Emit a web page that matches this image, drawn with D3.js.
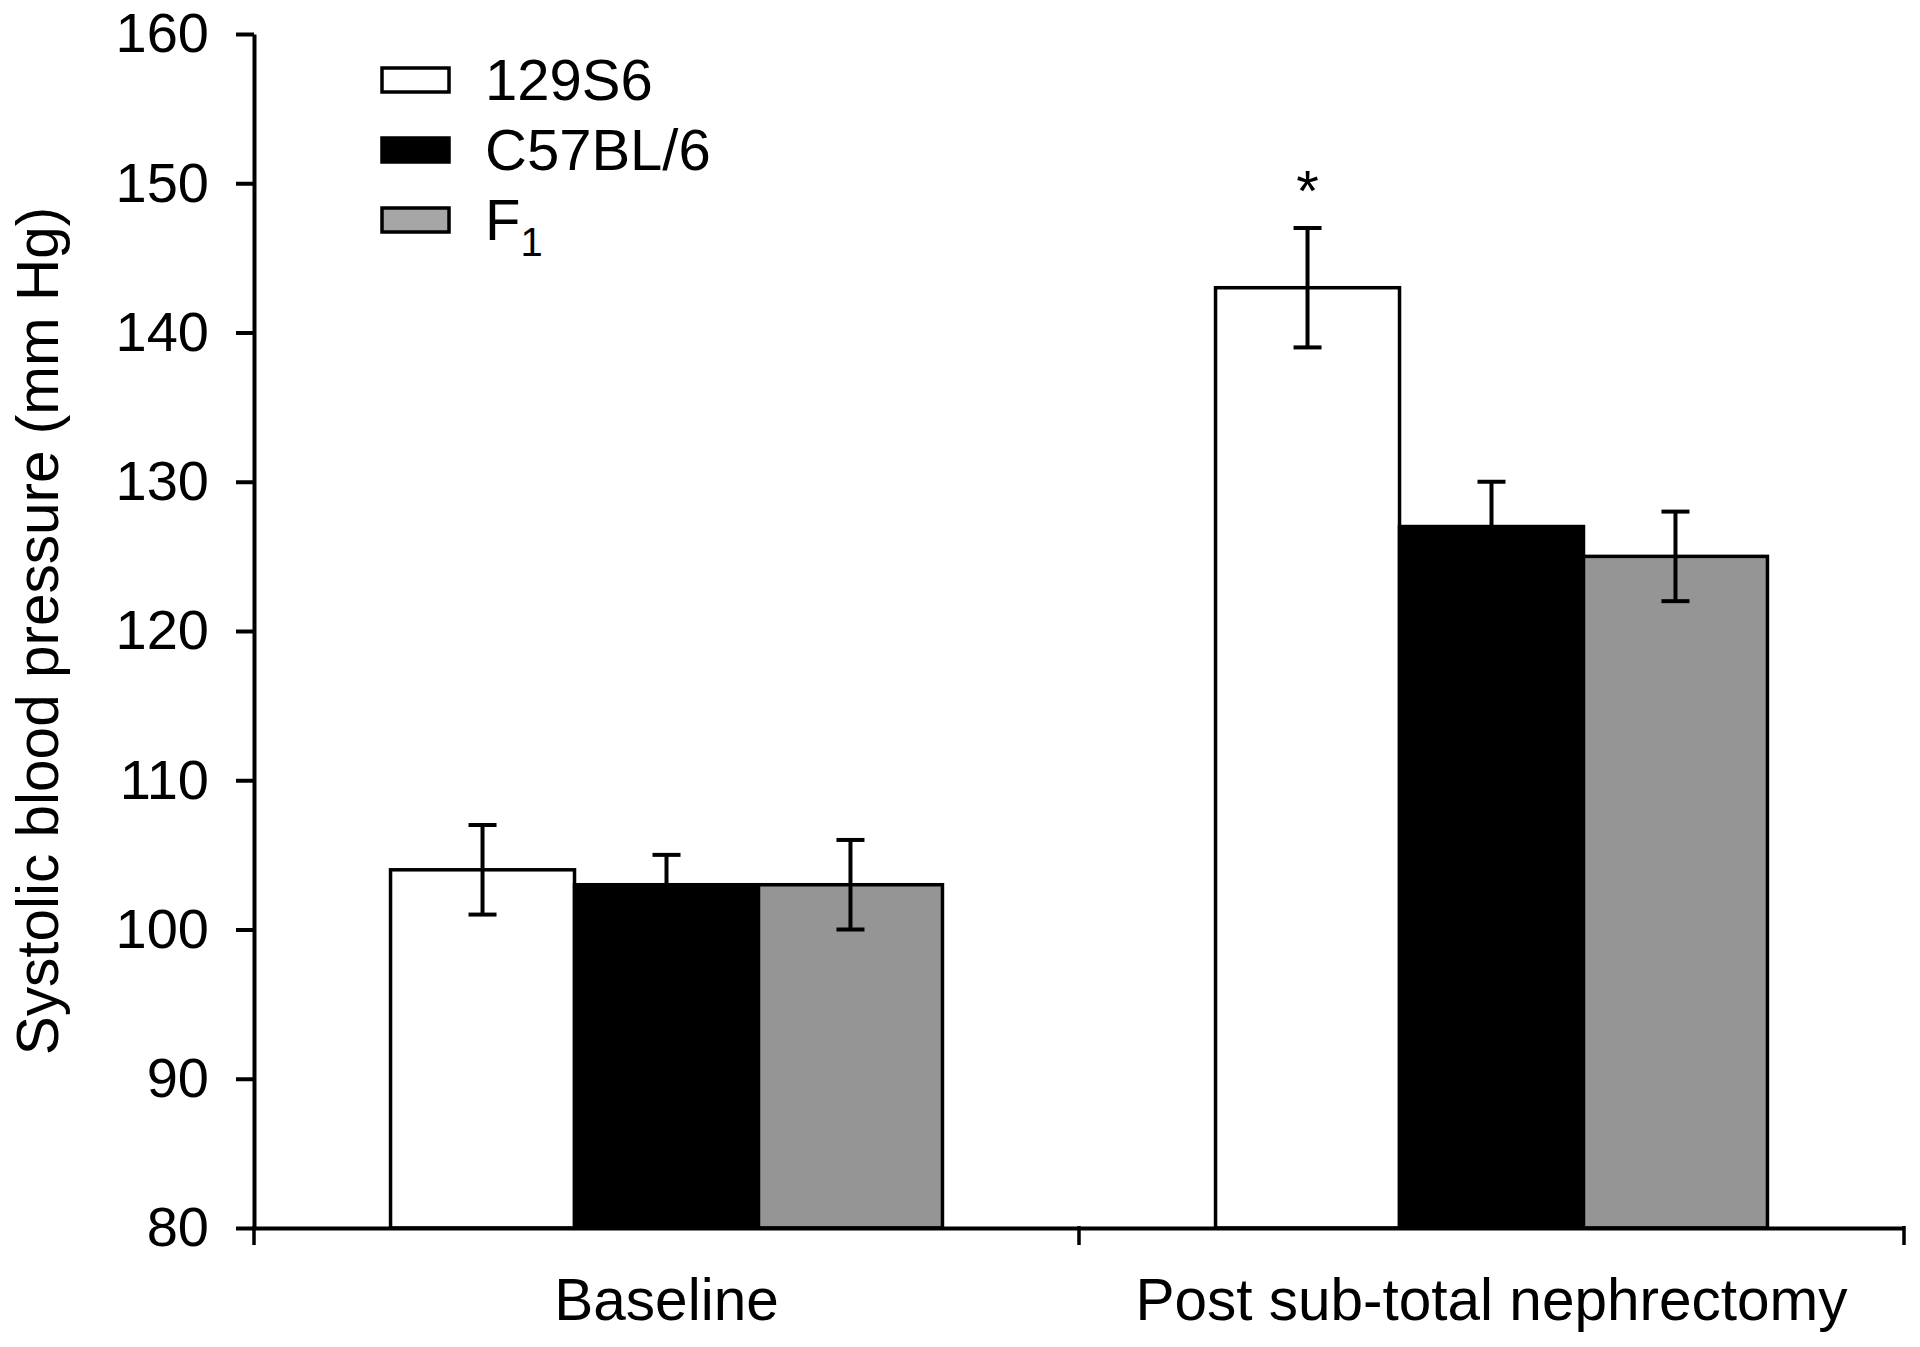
<!DOCTYPE html>
<html>
<head>
<meta charset="utf-8">
<script src="https://cdn.jsdelivr.net/npm/d3@7"></script>
<style>
  html, body { margin: 0; padding: 0; background: #fff; }
  svg { display: block; font-family: "Liberation Sans", Arial, Helvetica, sans-serif; }
</style>
</head>
<body>
<svg id="chart" width="1920" height="1347"></svg>
<script>
// ---- data ----
const categories = ["Baseline", "Post sub-total nephrectomy"];
const seriesNames = ["129S6", "C57BL/6", "F1"];
const seriesColors = ["#ffffff", "#000000", "#959595"];
const values129S6 = [104, 143];
const valuesC57 = [103, 127];
const valuesF1 = [103, 125];
const err129S6 = [3, 4];
const errC57 = [2, 3];
const errF1 = [3, 3];
const yTicks = [80, 90, 100, 110, 120, 130, 140, 150, 160];
const significance = [{ category: "Post sub-total nephrectomy", series: "129S6", label: "*" }];
const yTitle = "Systolic blood pressure (mm Hg)";

const seriesValues = [values129S6, valuesC57, valuesF1];
const seriesErrors = [err129S6, errC57, errF1];
const rows = [];
categories.forEach((c, ci) => {
  seriesNames.forEach((s, si) => {
    rows.push({ category: c, series: s, value: seriesValues[si][ci], err: seriesErrors[si][ci], color: seriesColors[si] });
  });
});

// ---- layout ----
const svg = d3.select("#chart");
const mLeft = 254, mRight = 1904, mTop = 34, mBottom = 1228;

const y = d3.scaleLinear().domain([80, 160]).range([mBottom, mTop]);
const x0 = d3.scaleBand().domain(categories).range([mLeft, mRight]).paddingInner(0.331).paddingOuter(0.1655);
const x1 = d3.scaleBand().domain(seriesNames).range([0, x0.bandwidth()]).padding(0);

// bars
const bars = svg.append("g");
bars.selectAll("rect").data(rows).join("rect")
  .attr("x", d => x0(d.category) + x1(d.series))
  .attr("y", d => y(d.value))
  .attr("width", x1.bandwidth())
  .attr("height", d => y(80) - y(d.value))
  .attr("fill", d => d.color)
  .attr("stroke", "#000")
  .attr("stroke-width", 3.5);

// error bars
const capW = 28;
const eb = svg.append("g").attr("stroke", "#000").attr("stroke-width", 4);
rows.forEach(d => {
  const cx = x0(d.category) + x1(d.series) + x1.bandwidth() / 2;
  eb.append("line").attr("x1", cx).attr("x2", cx).attr("y1", y(d.value + d.err)).attr("y2", y(d.value - d.err));
  eb.append("line").attr("x1", cx - capW / 2).attr("x2", cx + capW / 2).attr("y1", y(d.value + d.err)).attr("y2", y(d.value + d.err));
  eb.append("line").attr("x1", cx - capW / 2).attr("x2", cx + capW / 2).attr("y1", y(d.value - d.err)).attr("y2", y(d.value - d.err));
});

// significance
significance.forEach(s => {
  const d = rows.find(r => r.category === s.category && r.series === s.series);
  const cx = x0(d.category) + x1(d.series) + x1.bandwidth() / 2;
  svg.append("text").attr("x", cx).attr("y", y(d.value + d.err) - 17)
    .attr("text-anchor", "middle").attr("font-size", 58).attr("fill", "#000").text(s.label);
});

// y axis
const yAxis = d3.axisLeft(y).tickValues(yTicks).tickSize(18).tickPadding(27).tickSizeOuter(0);
const gy = svg.append("g").attr("transform", `translate(${mLeft},0)`).call(yAxis);
gy.select(".domain").attr("stroke", "#000").attr("stroke-width", 4);
gy.selectAll(".tick line").attr("stroke", "#000").attr("stroke-width", 4);
gy.selectAll(".tick text").attr("font-size", 56).attr("fill", "#000").attr("font-family", "Liberation Sans, Arial, sans-serif");

// x axis (labels at centers, ticks at band boundaries)
const xAxis = d3.axisBottom(x0).tickSize(0).tickPadding(50).tickSizeOuter(0);
const gx = svg.append("g").attr("transform", `translate(0,${mBottom})`).call(xAxis);
gx.select(".domain").attr("stroke", "#000").attr("stroke-width", 4);
gx.selectAll(".tick text").attr("font-size", 58.5).attr("fill", "#000").attr("font-family", "Liberation Sans, Arial, sans-serif");
const boundaries = [mLeft, (mLeft + mRight) / 2, mRight];
gx.selectAll(".bound").data(boundaries).join("line").attr("class", "bound")
  .attr("x1", d => d).attr("x2", d => d).attr("y1", -2).attr("y2", 17)
  .attr("stroke", "#000").attr("stroke-width", 3.5);

// y title
svg.append("text")
  .attr("transform", `translate(58,631) rotate(-90)`)
  .attr("text-anchor", "middle").attr("font-size", 58.5).attr("fill", "#000")
  .text(yTitle);

// legend
const legend = svg.append("g");
seriesNames.forEach((s, i) => {
  const gy0 = 68 + i * 70;
  legend.append("rect").attr("x", 382).attr("y", gy0).attr("width", 67).attr("height", 24)
    .attr("fill", seriesColors[i] === "#959595" ? "#a6a6a6" : seriesColors[i]).attr("stroke", "#000").attr("stroke-width", 3.5);
  const t = legend.append("text").attr("x", 485).attr("y", gy0 + 32).attr("font-size", 58).attr("fill", "#000");
  if (s === "F1") {
    t.append("tspan").text("F");
    t.append("tspan").attr("font-size", 40).attr("dy", 16).text("1");
  } else {
    t.text(s);
  }
});
</script>
</body>
</html>
